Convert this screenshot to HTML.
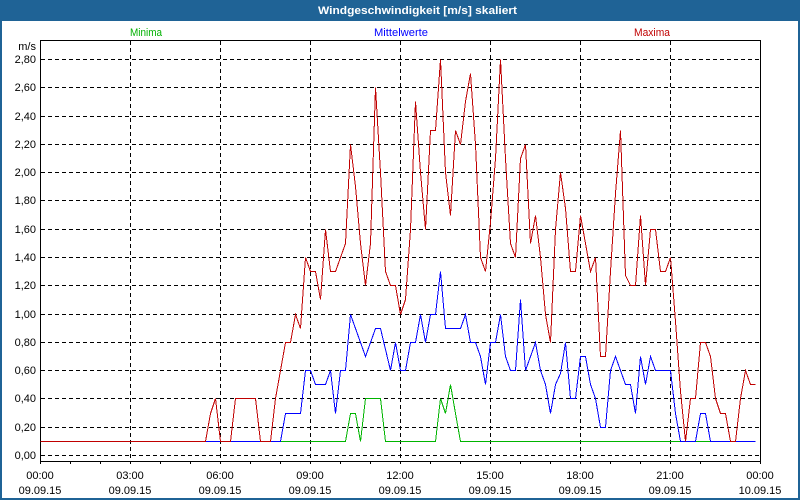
<!DOCTYPE html>
<html>
<head>
<meta charset="utf-8">
<style>
html,body{margin:0;padding:0;background:#fff;}
svg{display:block;}
text{font-family:"Liberation Sans",Arial,sans-serif;font-size:11px;}
</style>
</head>
<body>
<svg width="800" height="500" viewBox="0 0 800 500" xmlns="http://www.w3.org/2000/svg">
<rect x="0" y="0" width="800" height="500" fill="#ffffff"/>
<!-- title bar -->
<rect x="0" y="0" width="800" height="21" fill="#1f6396"/>
<rect x="0" y="0" width="2" height="500" fill="#1f6396"/>
<rect x="798" y="0" width="2" height="500" fill="#1f6396"/>
<rect x="0" y="498" width="800" height="2" fill="#1f6396"/>
<text x="318" y="14" fill="#ffffff" font-weight="bold" textLength="199" lengthAdjust="spacingAndGlyphs">Windgeschwindigkeit [m/s] skaliert</text>

<!-- legend -->
<text x="130" y="36" fill="#00b000" textLength="32" lengthAdjust="spacingAndGlyphs">Minima</text>
<text x="374" y="36" fill="#0000ff" textLength="54" lengthAdjust="spacingAndGlyphs">Mittelwerte</text>
<text x="634" y="36" fill="#c00000" textLength="36" lengthAdjust="spacingAndGlyphs">Maxima</text>

<!-- grid -->
<g stroke="#000" stroke-width="1" stroke-dasharray="4 3" fill="none" shape-rendering="crispEdges">
<path d="M41 455.5H760M41 427.5H760M41 398.5H760M41 370.5H760M41 342.5H760M41 314.5H760M41 285.5H760M41 257.5H760M41 229.5H760M41 200.5H760M41 172.5H760M41 144.5H760M41 116.5H760M41 87.5H760M41 59.5H760"/>
<path d="M130.5 41V461M220.5 41V461M310.5 41V461M400.5 41V461M490.5 41V461M580.5 41V461M670.5 41V461"/>
</g>

<!-- frame & ticks -->
<g stroke="#000" stroke-width="1" fill="none" shape-rendering="crispEdges">
<path d="M40.5 40.5H760.5V461.5H40.5Z"/>
<path d="M40.5 461V464M70.5 461V464M100.5 461V464M130.5 461V464M160.5 461V464M190.5 461V464M220.5 461V464M250.5 461V464M280.5 461V464M310.5 461V464M340.5 461V464M370.5 461V464M400.5 461V464M430.5 461V464M460.5 461V464M490.5 461V464M520.5 461V464M550.5 461V464M580.5 461V464M610.5 461V464M640.5 461V464M670.5 461V464M700.5 461V464M730.5 461V464M760.5 461V464"/>
</g>

<!-- y labels -->
<g fill="#000" text-anchor="end">
<text x="36" y="50">m/s</text>
<text x="36" y="63">2,80</text>
<text x="36" y="91">2,60</text>
<text x="36" y="120">2,40</text>
<text x="36" y="148">2,20</text>
<text x="36" y="176">2,00</text>
<text x="36" y="204">1,80</text>
<text x="36" y="233">1,60</text>
<text x="36" y="261">1,40</text>
<text x="36" y="289">1,20</text>
<text x="36" y="318">1,00</text>
<text x="36" y="346">0,80</text>
<text x="36" y="374">0,60</text>
<text x="36" y="402">0,40</text>
<text x="36" y="431">0,20</text>
<text x="36" y="459">0,00</text>
</g>

<!-- x labels -->
<g fill="#000" text-anchor="middle">
<text x="40" y="479">00:00</text><text x="40" y="494">09.09.15</text>
<text x="130" y="479">03:00</text><text x="130" y="494">09.09.15</text>
<text x="220" y="479">06:00</text><text x="220" y="494">09.09.15</text>
<text x="310" y="479">09:00</text><text x="310" y="494">09.09.15</text>
<text x="400" y="479">12:00</text><text x="400" y="494">09.09.15</text>
<text x="490" y="479">15:00</text><text x="490" y="494">09.09.15</text>
<text x="580" y="479">18:00</text><text x="580" y="494">09.09.15</text>
<text x="670" y="479">21:00</text><text x="670" y="494">09.09.15</text>
<text x="760" y="479">00:00</text><text x="760" y="494">10.09.15</text>
</g>

<!-- series -->
<g transform="translate(0.5,0.5)" fill="none" stroke-width="1" shape-rendering="crispEdges">
<polyline stroke="#00b400" points="40,441 345,441 350,413 355,413 360,441 365,398 380,398 385,441 435,441 440,398 445,413 450,384 455,413 460,441 755,441"/>
<polyline stroke="#0000ff" points="40,441 280,441 285,413 300,413 305,370 310,370 315,384 325,384 330,370 335,413 340,370 345,370 350,314 360,342 365,356 375,328 380,328 385,349 390,370 395,342 400,370 405,370 410,342 415,342 420,314 425,342 430,314 435,314 440,271 445,328 460,328 465,314 470,342 475,342 480,356 485,384 490,342 495,342 500,314 505,356 510,370 515,370 520,299 525,370 530,356 535,342 540,370 545,384 550,413 555,384 560,373 565,342 570,398 575,398 580,356 585,356 590,384 595,398 600,427 605,427 610,370 615,356 620,370 625,384 630,384 635,413 640,356 645,384 650,356 655,370 670,370 675,413 680,441 695,441 700,413 705,413 710,441 755,441"/>
<polyline stroke="#c00000" points="40,441 205,441 210,413 215,398 220,441 230,441 235,398 255,398 260,441 270,441 275,398 280,370 285,342 290,342 295,314 300,328 305,257 310,271 315,271 320,299 325,229 330,271 335,271 340,257 345,243 350,144 355,186 360,243 365,285 370,243 375,87 380,172 385,271 390,285 395,285 400,314 405,299 410,229 415,101 420,172 425,229 430,130 435,130 440,59 445,172 450,215 455,130 460,144 465,101 470,73 475,144 480,257 485,271 490,222 495,158 500,59 505,158 510,243 515,257 520,158 525,144 530,243 535,215 540,257 545,314 550,342 555,229 560,172 565,208 570,271 575,271 580,215 585,243 590,271 595,257 600,356 605,356 610,271 615,193 620,130 625,275 630,285 635,285 640,215 645,285 650,229 655,229 660,271 665,271 670,257 675,321 680,391 685,441 690,398 695,398 700,342 705,342 710,356 715,398 720,413 725,413 730,441 735,441 740,398 745,370 750,384 755,384"/>
</g>
</svg>
</body>
</html>
